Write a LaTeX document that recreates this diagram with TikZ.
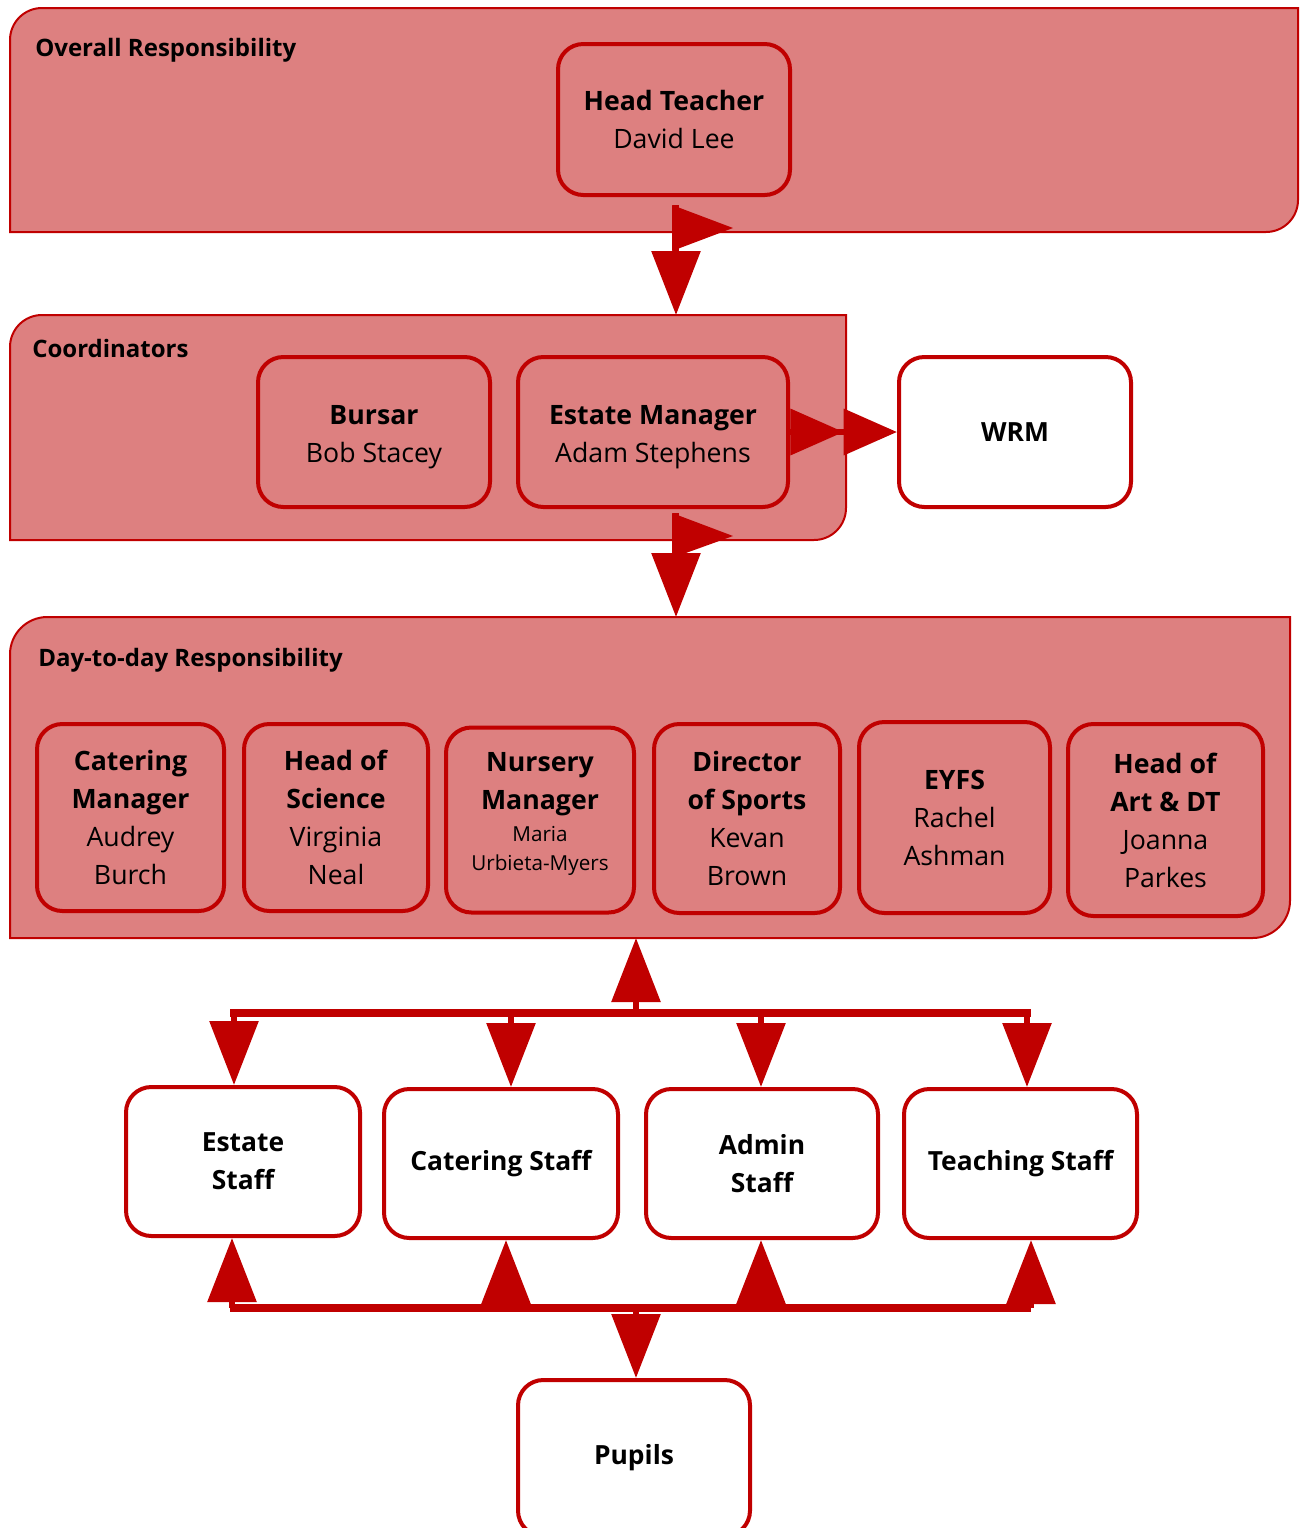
\documentclass[tikz,border=0pt]{standalone}
\usepackage{fontspec}
\setmainfont{Open Sans}
\usetikzlibrary{arrows.meta,calc}

\definecolor{darkred}{RGB}{192,0,0}
\definecolor{bandpink}{RGB}{221,128,128}

\tikzset{
  band/.style={draw=darkred, line width=1.5pt, fill=bandpink},
  bandlabel/.style={anchor=west, inner sep=0pt, font=\fontsize{18}{21}\selectfont\bfseries},
  boxsize/.style 2 args={minimum width=#1*0.75pt, minimum height=#2*0.75pt},
  rolebox/.style={draw=darkred, line width=3pt, rounded corners=19pt, fill=bandpink,
    align=center, inner sep=2pt, font=\fontsize{20}{28.5}\selectfont},
  staffbox/.style={rolebox, fill=white, font=\fontsize{19.8}{28.5}\selectfont\bfseries},
  conn/.style={draw=darkred, line width=4.5pt, -{Triangle[length=48pt,width=36pt]}},
  dblconn/.style={draw=darkred, line width=4.5pt,
    -{Triangle[length=40pt,width=34pt]Triangle[length=40pt,width=34pt]}},
  bus/.style={draw=darkred, line width=6.5pt},
}

% band with rounded top-left and bottom-right corners
\newcommand\drawband[3]{%
  \draw[band] (#2 |- #1) [rounded corners=#3] -- (#1) [sharp corners] -- (#1 |- #2)
    [rounded corners=#3] -- (#2) [sharp corners] -- cycle;}

\begin{document}
\begin{tikzpicture}[x=0.75pt, y=-0.75pt]
  \useasboundingbox (0,0) rectangle (1305,1528);

  % Draw the three bands
  \coordinate (overallnw) at (10,8);    \coordinate (overallse) at (1298,232);
  \coordinate (coordnw) at (10,315);    \coordinate (coordse) at (846,540);
  \coordinate (daynw) at (10,617);      \coordinate (dayse) at (1290,938);
  \drawband{overallnw}{overallse}{24pt}
  \drawband{coordnw}{coordse}{24pt}
  \drawband{daynw}{dayse}{28pt}

  \node[bandlabel] (overalllabel) at (35,50) {Overall Responsibility};
  \node[bandlabel] (coordlabel) at (32,348) {Coordinators};
  \node[bandlabel] (daylabel) at (38,660) {Day-to-day Responsibility};

  % Overall responsibility
  \node[rolebox, boxsize={232}{151}] (head) at (674,119.5) {\textbf{Head Teacher}\\David Lee};

  % Coordinators
  \node[rolebox, boxsize={232}{150}] (bursar) at (374,432) {\rule{0pt}{22pt}\textbf{Bursar}\\Bob Stacey};
  \node[rolebox, boxsize={270}{150}] (estatemgr) at (653,432) {\rule{0pt}{22pt}\textbf{Estate Manager}\\Adam Stephens};
  \node[staffbox, boxsize={232}{150}] (wrm) at (1015,432) {WRM};

  % Day-to-day responsibility
  \node[rolebox, boxsize={187}{187}] (cateringmgr) at (130.5,817.5) {\textbf{Catering}\\\textbf{Manager}\\Audrey\\Burch};
  \node[rolebox, boxsize={184}{187}] (science) at (336,817.5) {\textbf{Head of}\\\textbf{Science}\\Virginia\\Neal};
  \node[rolebox, boxsize={188}{185}] (nursery) at (540,820) {\textbf{Nursery}\\\textbf{Manager}\\[-4.5pt]\fontsize{15.5}{21.5}\selectfont Maria\\[-7pt]\fontsize{15.5}{21.5}\selectfont Urbieta-Myers\rule[-13pt]{0pt}{1pt}};
  \node[rolebox, boxsize={186}{189}] (sports) at (747,818.5) {\textbf{Director}\\\textbf{of Sports}\\Kevan\\Brown};
  \node[rolebox, boxsize={191}{191}] (eyfs) at (954.5,817.5) {\textbf{EYFS}\\Rachel\\Ashman};
  \node[rolebox, boxsize={195}{192}] (art) at (1165.5,820) {\textbf{Head of}\\\textbf{Art \& DT}\\Joanna\\Parkes};

  % Staff and pupils
  \node[staffbox, boxsize={234}{149}] (estate) at (243,1161.5) {Estate\\Staff};
  \node[staffbox, boxsize={234}{149}] (catering) at (501,1163.5) {Catering Staff};
  \node[staffbox, boxsize={232}{149}] (admin) at (762,1163.5) {Admin\\Staff};
  \node[staffbox, boxsize={233}{149}] (teaching) at (1020.5,1163.5) {Teaching Staff};
  \node[staffbox, boxsize={232}{156}] (pupils) at (634,1458) {Pupils};

  % Draw the arrows between the bands
  \coordinate (headout) at ($(head.south)+(2,8)$);
  \draw[conn] (headout) -- (headout |- coordnw);
  \fill[darkred] ($(head.south)+(-2,8)$) -- ++(0,46) -- ++(61,-23) -- cycle;

  \coordinate (emout) at (676,513);
  \draw[conn] (emout) -- (emout |- daynw);
  \fill[darkred] (672,513) -- ++(0,45) -- ++(61,-22) -- cycle;

  \draw[dblconn] (estatemgr.east) -- (wrm.west);

  % Draw the upper bus to the staff
  \coordinate (topbusW) at (230,1013);
  \coordinate (topbusE) at (1031,1013);
  \draw[bus] (topbusW) -- (topbusE);
  \draw[conn] (636,1013) -- (636,1013 |- dayse);
  \foreach \n/\x in {estate/234, catering/511, admin/761, teaching/1027}
    \draw[conn] (\x,1013) -- (\x,1013 |- \n.north);

  % Draw the lower bus from the pupils
  \coordinate (lowbusW) at (230,1308);
  \coordinate (lowbusE) at (1031,1308);
  \draw[bus] (lowbusW) -- (lowbusE);
  \draw[conn] (636,1308) -- (636,1308 |- pupils.north);
  \foreach \n/\x in {estate/232, catering/506, admin/761, teaching/1031}
    \draw[conn] (\x,1308) -- (\x,1308 |- \n.south);

\end{tikzpicture}
\end{document}
